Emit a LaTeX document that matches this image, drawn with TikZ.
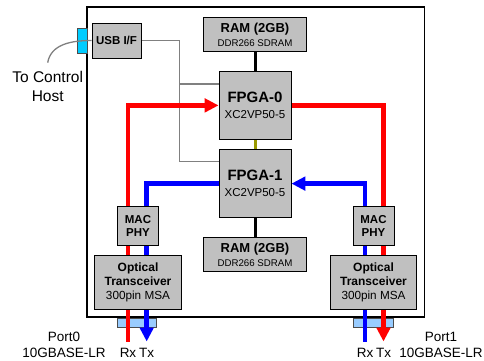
\documentclass[tikz,border=0pt]{standalone}
\usepackage{fontspec}
\setmainfont{Liberation Sans}
\usepackage{tikz}
\usetikzlibrary{arrows.meta, positioning, backgrounds, calc}
\definecolor{boxgray}{RGB}{192,192,192}
\definecolor{linkred}{RGB}{255,0,0}
\definecolor{linkblue}{RGB}{0,0,255}
\definecolor{jackcyan}{RGB}{0,204,255}
\definecolor{jackblue}{RGB}{153,204,255}
\definecolor{wiregray}{RGB}{128,128,128}
\definecolor{busolive}{RGB}{153,153,0}
\tikzset{
    hwblock/.style={rectangle, draw=black, fill=boxgray, line width=0.9pt, inner sep=1pt, align=center},
    fpgablock/.style={hwblock, minimum width=72pt, minimum height=68pt, font=\fontsize{15}{16}\selectfont},
    ramblock/.style={hwblock, minimum width=103pt, minimum height=34pt, font=\fontsize{13}{14}\selectfont},
    usbblock/.style={hwblock, minimum width=49pt, minimum height=35pt, font=\bfseries\fontsize{11.5}{13}\selectfont},
    macblock/.style={hwblock, minimum width=41pt, minimum height=39pt, font=\bfseries\fontsize{11.5}{13.3}\selectfont},
    optblock/.style={hwblock, minimum width=86.5pt, minimum height=54pt, font=\fontsize{12}{13.7}\selectfont},
    netlink/.style={draw=#1, line width=4.5pt, -{Triangle[length=14pt, width=13.5pt]}},
    memlink/.style={draw=#1, line width=3pt},
    ctrllink/.style={draw=wiregray, line width=1.3pt},
    portjack/.style={rectangle, draw=black!70, fill=#1, line width=0.6pt, inner sep=0pt},
    boardframe/.style={draw=black, line width=1.2pt},
    hostlabel/.style={font=\fontsize{15.5}{19}\selectfont, align=center, inner sep=1pt},
    portlabel/.style={font=\fontsize{13.5}{16}\selectfont, align=center, inner sep=1pt}
}

\begin{document}
\begin{tikzpicture}[x=1pt, y=-1pt]
\useasboundingbox (0,0) rectangle (484,360);

% fpga column with memories
\node[ramblock] (ramtop) at (255,34.5) {\textbf{RAM (2GB)}\\{\fontsize{9.7}{14}\selectfont DDR266 SDRAM}};
\node[fpgablock, below=19pt of ramtop] (fpga0) {\textbf{FPGA-0}\\{\fontsize{11.5}{16}\selectfont XC2VP50-5}};
\node[fpgablock, below=9.3pt of fpga0] (fpga1) {\textbf{FPGA-1}\\{\fontsize{11.5}{16}\selectfont XC2VP50-5}};
\node[ramblock, below=19.3pt of fpga1] (rambot) {\textbf{RAM (2GB)}\\{\fontsize{9.7}{14}\selectfont DDR266 SDRAM}};

% host interface
\node[usbblock] (usb) at (116.5,40.5) {USB I/F};
\node[hostlabel] (host) at (47.7,86) {To Control\\Host};

% network ports
\node[macblock] (mac0) at (138,226.2) {MAC\\PHY};
\node[optblock, below=8.6pt of mac0] (opt0) {\textbf{Optical}\\\textbf{Transceiver}\\{\fontsize{11.75}{13.7}\selectfont 300pin MSA}};
\node[macblock] (mac1) at (373.5,226.2) {MAC\\PHY};
\node[optblock, below=8.6pt of mac1] (opt1) {\textbf{Optical}\\\textbf{Transceiver}\\{\fontsize{11.75}{13.7}\selectfont 300pin MSA}};

\coordinate (rx0) at (128,341.5);
\coordinate (tx0) at (146.7,341.5);
\coordinate (rx1) at (365,341.5);
\coordinate (tx1) at (383.5,341.5);

\node[portlabel] (port0) at (64,345) {Port0\\10GBASE-LR};
\node[portlabel] (port1) at (441,345) {Port1\\10GBASE-LR};
\node[portlabel] (rxlab0) at (128,353) {Rx};
\node[portlabel] (txlab0) at (146.7,353) {Tx};
\node[portlabel] (rxlab1) at (365,353) {Rx};
\node[portlabel] (txlab1) at (383.5,353) {Tx};

\begin{pgfonlayer}{background}
\draw[boardframe] (87,7) rectangle (424.7,317);
\node[portjack=jackcyan, minimum width=10pt, minimum height=25pt] (usbjack) at (82,40.5) {};
\node[portjack=jackblue, minimum width=39.4pt, minimum height=9pt] (jack0) at (137,322.8) {};
\node[portjack=jackblue, minimum width=39.4pt, minimum height=9pt] (jack1) at (373.4,322.8) {};

% control wires
\draw[ctrllink] (usb.east) -| ($(fpga1.west)+(-39,-21.8)$) -- ($(fpga1.west)+(0,-21.8)$);
\draw[ctrllink] ($(fpga0.west)+(0,-21.4)$) -- +(-39,0);
\draw[ctrllink] (usb.west) to[out=180, in=80] ([yshift=7pt]host.north);

% memory buses
\draw[memlink=black] (ramtop) -- (fpga0);
\draw[memlink=busolive] (fpga0) -- (fpga1);
\draw[memlink=black] (fpga1) -- (rambot);

% 10G links
\draw[netlink=linkred] (rx0) |- (fpga0.west);
\draw[netlink=linkblue] (fpga1.west) -| (tx0);
\draw[netlink=linkred] (fpga0.east) -| (tx1);
\draw[netlink=linkblue] (rx1) |- (fpga1.east);
\end{pgfonlayer}

\end{tikzpicture}
\end{document}
